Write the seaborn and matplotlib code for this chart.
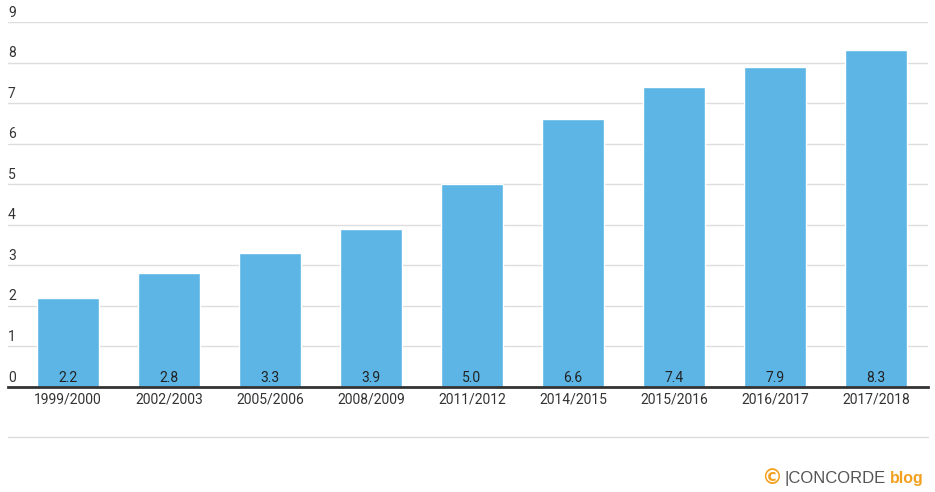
import matplotlib
matplotlib.use("Agg")
import matplotlib.pyplot as plt
import seaborn as sns
import pandas as pd
from matplotlib.lines import Line2D

years = ["1999/2000", "2002/2003", "2005/2006", "2008/2009", "2011/2012",
         "2014/2015", "2015/2016", "2016/2017", "2017/2018"]
values = [2.2, 2.8, 3.3, 3.9, 5.0, 6.6, 7.4, 7.9, 8.3]
y_ticks = list(range(0, 10))

sns.set_theme(style="white")
plt.rcParams['font.family'] = ['Roboto', 'DejaVu Sans']

W, H = 935, 492
fig = plt.figure(figsize=(W / 100, H / 100), dpi=100)
ax = fig.add_axes([8 / W, 1 - 387 / H, 920 / W, 365 / H])

df = pd.DataFrame({"year": years, "value": values})
sns.barplot(data=df, x="year", y="value", color="#5DB5E5", saturation=1,
            width=0.615, ax=ax, zorder=3)

ax.set_ylim(0, 9)
ax.set_xlim(-0.5 - 9.5 / 101, 8.5 + 1.5 / 101)
ax.set_yticks(y_ticks)
ax.set_yticklabels([])
ax.tick_params(axis="y", length=0)
ax.tick_params(axis="x", length=0, pad=4, labelsize=10, labelcolor="#333333")
ax.set_xlabel("")
ax.set_ylabel("")
for s in ["top", "right", "left"]:
    ax.spines[s].set_visible(False)
ax.spines["bottom"].set_color("#333333")
ax.spines["bottom"].set_linewidth(2)
ax.spines["bottom"].set_zorder(5)

for t in y_ticks:
    if t > 0:
        ax.axhline(t, color="#DDDDDD", lw=1, zorder=1)
    ax.text(0, t + 0.06, str(t), transform=ax.get_yaxis_transform(),
            ha="left", va="bottom", fontsize=10, color="#333333")

for i, v in enumerate(values):
    ax.text(i, 0.06, f"{v:.1f}", ha="center", va="bottom", fontsize=10,
            color="#222222", zorder=6)

fig.add_artist(Line2D([8 / W, 928 / W], [1 - 437 / H, 1 - 437 / H],
                      transform=fig.transFigure, color="#DDDDDD", lw=1))

fig.text(772 / W, 1 - 478 / H, "©", ha="center", va="center", fontsize=15,
         color="#F2A01E", fontweight="bold", family=["DejaVu Sans"])
fig.text(784 / W, 1 - 478 / H, "|CONCORDE", ha="left", va="center",
         fontsize=12, color="#555555", family=["Liberation Sans"])
fig.text(890 / W, 1 - 478 / H, "blog", ha="left", va="center",
         fontsize=11.5, color="#F2A01E", fontweight="bold",
         family=["Liberation Sans"])

fig.savefig("out.png", dpi=100)
